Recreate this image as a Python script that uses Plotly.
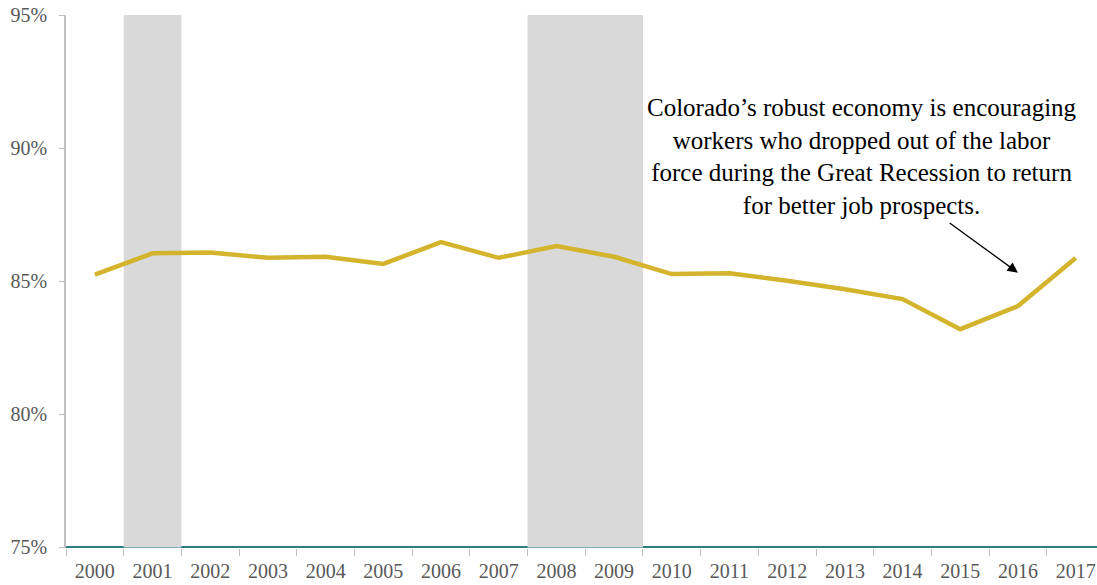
"""Colorado labor force participation (prime age) with recession shading."""

import plotly.graph_objects as go

YEARS = [str(y) for y in range(2000, 2018)]
RATE = [85.25, 86.05, 86.08, 85.88, 85.92, 85.65, 86.47, 85.88, 86.32,
        85.92, 85.27, 85.30, 85.02, 84.70, 84.33, 83.20, 84.07, 85.87]
RECESSIONS = [(0.5, 1.5), (7.5, 9.5)]  # category index spans (2001, 2008-2009)
NOTE = ("Colorado’s robust economy is encouraging<br>workers who dropped out of the labor<br>"
        "force during the Great Recession to return<br>for better job prospects.")

SERIF = "Liberation Serif"
GOLD = "#d4b42c"
TEAL = "#2b7f81"
GRID_GRAY = "#bfbfbf"

fig = go.Figure(
    go.Scatter(x=YEARS, y=RATE, mode="lines", line={"color": GOLD, "width": 4.5},
               hoverinfo="x+y", showlegend=False)
)

# teal baseline first, recession bands drawn over it
shapes = [dict(type="line", xref="paper", yref="y", x0=0, x1=1, y0=75, y1=75,
               line={"color": TEAL, "width": 3}, layer="below")]
for start, end in RECESSIONS:
    shapes.append(dict(type="rect", xref="x", yref="y", x0=start, x1=end, y0=75, y1=95,
                       fillcolor="#d9d9d9", line={"width": 0}, layer="below"))

fig.update_layout(
    width=1097,
    height=585,
    plot_bgcolor="white",
    paper_bgcolor="white",
    margin=dict(l=66, r=0, t=15, b=37),
    font={"family": SERIF, "color": "#595959", "size": 20},
    shapes=shapes,
    annotations=[
        dict(text=NOTE, x=0.772, y=0.735, xref="paper", yref="paper", showarrow=False,
             xanchor="center", yanchor="middle", align="center",
             font={"family": SERIF, "size": 25, "color": "#000000"}),
        dict(x=16.0, y=85.32, ax=14.79, ay=87.23, xref="x", yref="y", axref="x", ayref="y",
             text="", showarrow=True, arrowhead=2, arrowsize=1.6, arrowwidth=1.3,
             arrowcolor="#000000"),
    ],
)
fig.update_xaxes(
    type="category", range=[-0.5, 17.37], tickson="boundaries", ticks="outside",
    ticklen=7, tickcolor=GRID_GRAY, showgrid=False, showline=False, zeroline=False,
    tickfont={"size": 20}, automargin=False, ticklabelstandoff=9,
)
fig.update_yaxes(
    range=[74.98, 95], tickvals=[75, 80, 85, 90, 95], ticktext=["75%", "80%", "85%", "90%", "95%"],
    ticks="outside", ticklen=5, tickcolor=GRID_GRAY, showline=True, linecolor=GRID_GRAY,
    linewidth=1.5, showgrid=False, zeroline=False, tickfont={"size": 20}, automargin=False,
    ticklabelstandoff=8,
)

# drop the default 8px page margin so the figure fills the window exactly
fig.write_html(
    "out.html",
    config={"displayModeBar": False},
    post_script="document.body.style.margin='0';document.body.style.overflow='hidden';",
)
